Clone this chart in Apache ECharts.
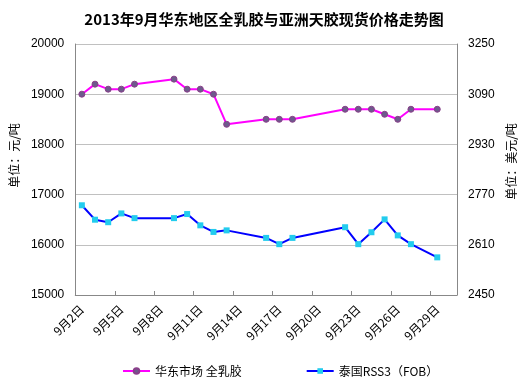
<!DOCTYPE html>
<html>
<head>
<meta charset="utf-8">
<script src="https://cdn.jsdelivr.net/npm/echarts@6/dist/echarts.min.js"></script>
<style>
html,body{margin:0;padding:0;background:#fff;}
#c{width:528px;height:387px;}
</style>
</head>
<body>
<div id="c"></div>
<script>
var titleText = '2013年9月华东地区全乳胶与亚洲天胶现货价格走势图';
var seriesNames = ['华东市场 全乳胶', '泰国RSS3（FOB）'];
var allDays = [2,3,4,5,6,7,8,9,10,11,12,13,14,15,16,17,18,19,20,21,22,23,24,25,26,27,28,29,30];
var dataDays = [2,3,4,5,6,9,10,11,12,13,16,17,18,22,23,24,25,26,27,29];
var latexValues = [19000,19200,19100,19100,19200,19300,19100,19100,19000,18400,18500,18500,18500,18700,18700,18700,18600,18500,18700,18700];
var rssValues = [2736,2690,2682,2710,2695,2695,2708,2672,2651,2656,2632,2612,2632,2666,2612,2650,2691,2640,2612,2570];
var leftTicks = [15000,20000,1000];
var rightTicks = [2450,3250,160];
var leftName = '单位：元/吨';
var rightName = '单位：美元/吨';

var categories = allDays.map(function(d){ return '9月' + d + '日'; });
function build(vals){
  return allDays.map(function(d){
    var i = dataDays.indexOf(d);
    return i >= 0 ? vals[i] : null;
  });
}
var numFont = 'Liberation Sans, Arial, sans-serif';
var cjkFont = '"Noto Sans CJK SC", sans-serif';
function plain(v){ return String(v); }

var chart = echarts.init(document.getElementById('c'), null, {renderer:'canvas'});
chart.setOption({
  animation:false,
  backgroundColor:'#fff',
  title:{
    text:titleText, left:'center', top:7,
    textStyle:{fontSize:15, fontWeight:'bold', color:'#000', fontFamily:cjkFont}
  },
  legend:{
    left:117, top:360, itemGap:64, itemWidth:27, itemHeight:7,
    textStyle:{fontSize:12, color:'#000', fontFamily:cjkFont},
    data:seriesNames
  },
  grid:{left:74, right:71, top:44, bottom:92},
  xAxis:{
    type:'category', data:categories, boundaryGap:true,
    axisLine:{lineStyle:{color:'#888', width:1}},
    axisTick:{show:true, inside:true, length:4, interval:2, lineStyle:{color:'#888'}},
    axisLabel:{interval:2, rotate:45, margin:12, fontSize:12, color:'#000', fontFamily:cjkFont},
    splitLine:{show:false}
  },
  yAxis:[{
    type:'value', min:leftTicks[0], max:leftTicks[1], interval:leftTicks[2],
    name:leftName, nameLocation:'middle', nameGap:50, nameRotate:90,
    nameTextStyle:{fontSize:12, color:'#000', fontFamily:cjkFont, padding:[0,0,0,28]},
    axisLine:{show:true, lineStyle:{color:'#888'}},
    axisTick:{show:false},
    axisLabel:{margin:11, fontSize:12, color:'#000', fontFamily:numFont, formatter:plain},
    splitLine:{show:true, lineStyle:{color:'#c0c0c0', width:1}}
  },{
    type:'value', min:rightTicks[0], max:rightTicks[1], interval:rightTicks[2],
    name:rightName, nameLocation:'middle', nameGap:41, nameRotate:90,
    nameTextStyle:{fontSize:12, color:'#000', fontFamily:cjkFont, padding:[0,0,0,16]},
    axisLine:{show:true, lineStyle:{color:'#888'}},
    axisTick:{show:false},
    axisLabel:{margin:11, fontSize:12, color:'#000', fontFamily:numFont, formatter:plain},
    splitLine:{show:false}
  }],
  series:[{
    name:seriesNames[0], type:'line', yAxisIndex:0, data:build(latexValues), connectNulls:true,
    symbol:'circle', symbolSize:6, showAllSymbol:true,
    lineStyle:{color:'#ff00ff', width:2},
    itemStyle:{color:'#6e5a8c', borderColor:'#8a3f8a', borderWidth:1}
  },{
    name:seriesNames[1], type:'line', yAxisIndex:1, data:build(rssValues), connectNulls:true,
    symbol:'rect', symbolSize:6, showAllSymbol:true,
    lineStyle:{color:'#0000ff', width:2},
    itemStyle:{color:'#22ccee', borderColor:'#22ccee', borderWidth:0}
  }]
});
</script>
</body>
</html>
